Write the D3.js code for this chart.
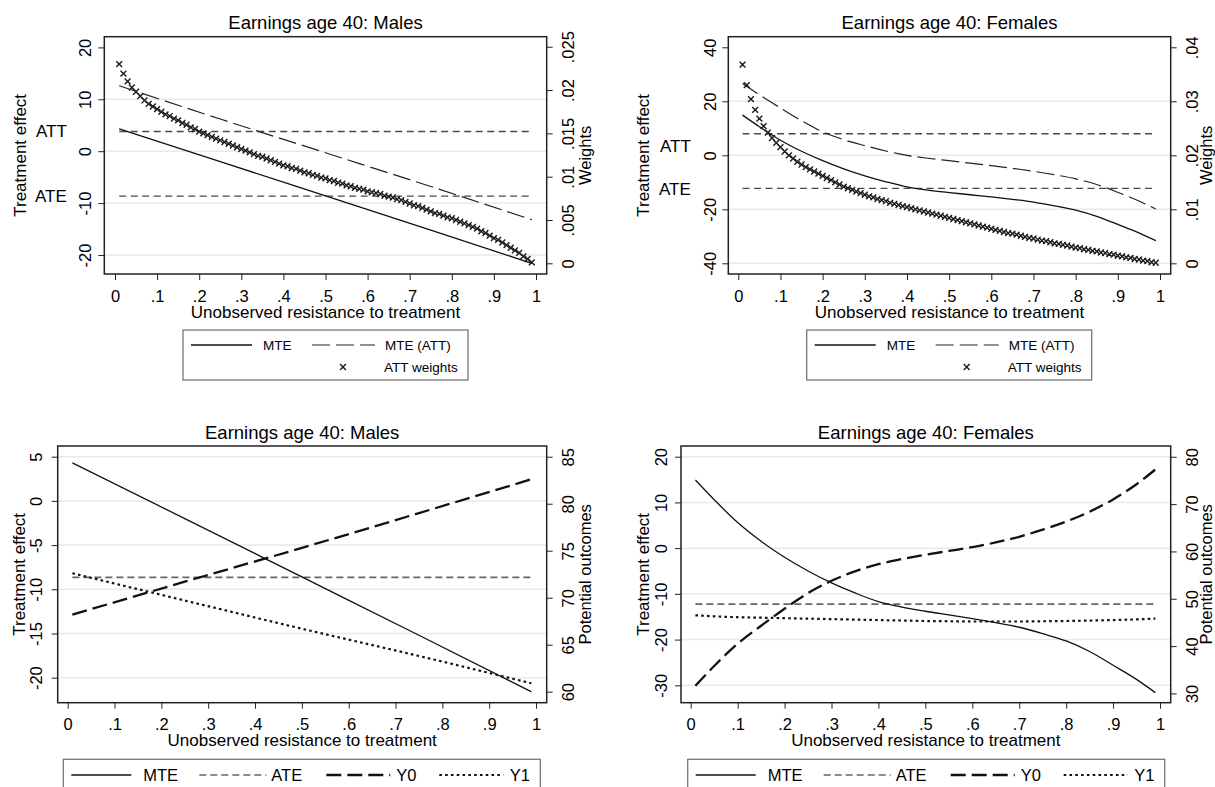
<!DOCTYPE html>
<html>
<head>
<meta charset="utf-8">
<script src="https://cdn.jsdelivr.net/npm/d3@7"></script>
<style>
body { margin: 0; background: #fff; }
svg { font-family: "Liberation Sans", Arial, sans-serif; }
</style>
</head>
<body>
<svg id="chart" width="1215" height="787"></svg>
<script>
// ---- data ----
var xTicks = [0, .1, .2, .3, .4, .5, .6, .7, .8, .9, 1];

// males: straight lines, a few points each
var uMale = [.01, .25, .5, .75, .99];
var maleMTE = [4.3, -2.0, -8.6, -15.2, -21.6];
var maleMTEatt = [12.6, 6.2, -0.3, -6.8, -13.2];
var maleY0 = [68.2, 71.7, 75.3, 79.0, 82.6];
var maleY1 = [72.6, 69.7, 66.7, 63.8, 60.9];
var maleATT = 3.8, maleATE = -8.65;
var maleLabelAt = [3.8, -8.65];

// females: curves
var uFem = [.01, .05, .1, .15, .2, .25, .3, .35, .4, .45, .5, .55, .6, .65, .7, .75, .8, .85, .9, .95, .99];
var femMTE = [14.9, 10.6, 5.6, 1.5, -2.0, -5.0, -7.6, -9.8, -11.7, -12.9, -13.8, -14.6, -15.4, -16.3, -17.3, -18.7, -20.3, -22.6, -25.6, -28.7, -31.6];
var femMTEatt = [26.6, 22.4, 17.5, 12.8, 8.7, 5.8, 3.6, 1.6, 0.0, -1.1, -2.0, -2.9, -3.8, -4.8, -5.9, -7.2, -8.7, -10.8, -13.7, -16.9, -19.9];
var femY0 = [31.6, 35.8, 40.5, 44.3, 47.9, 51.2, 53.8, 55.8, 57.3, 58.4, 59.3, 60.1, 60.9, 61.9, 63.1, 64.6, 66.3, 68.4, 71.0, 74.2, 77.3];
var femY1 = [46.5, 46.3, 46.1, 46.0, 45.9, 45.8, 45.7, 45.6, 45.5, 45.4, 45.3, 45.25, 45.2, 45.2, 45.2, 45.25, 45.3, 45.4, 45.5, 45.65, 45.8];
var femATT = 8.0, femATE = -12.25;
var femLabelAt = [3.1, -12.7];

// ATT weights, one marker per percentile u = .01 ... .99
var uWeights = d3.range(1, 100).map(function(i) { return i / 100; });
var maleWeights = [
  .0230, .0219, .0210, .0203, .0198, .0193, .0188, .0184, .0181, .0178,
  .0175, .0172, .0170, .0167, .0165, .0162, .0160, .0157, .0155, .0152,
  .0150, .0148, .0146, .0144, .0142, .0140, .0138, .0136, .0134, .0132,
  .0130, .0128, .0126, .0124, .0123, .0121, .0119, .0117, .0115, .0113,
  .0112, .0110, .0109, .0107, .0105, .0104, .0102, .0101, .0099, .0098,
  .0096, .0095, .0093, .0092, .0090, .0089, .0087, .0086, .0085, .0083,
  .0082, .0081, .0080, .0078, .0077, .0076, .0074, .0073, .0071, .0069,
  .0067, .0066, .0064, .0062, .0060, .0058, .0057, .0055, .0053, .0052,
  .0050, .0048, .0046, .0044, .0042, .0040, .0037, .0035, .0032, .0029,
  .0027, .0024, .0021, .0018, .0015, .0012, .0008, .0005, .0001];
var femWeights = [
  .0368, .0330, .0304, .0284, .0268, .0254, .0242, .0232, .0223, .0215,
  .0207, .0200, .0194, .0188, .0183, .0178, .0174, .0170, .0166, .0162,
  .0158, .0154, .0150, .0146, .0142, .0139, .0136, .0133, .0130, .0127,
  .0124, .0122, .0119, .0117, .0115, .0112, .0110, .0108, .0106, .0104,
  .0102, .0100, .0098, .0096, .0094, .0092, .0090, .0088, .0086, .0084,
  .0082, .0080, .0078, .0076, .0074, .0072, .0070, .0068, .0066, .0064,
  .0062, .0060, .0058, .0056, .0055, .0053, .0051, .0049, .0047, .0046,
  .0044, .0042, .0041, .0039, .0037, .0036, .0034, .0033, .0031, .0029,
  .0028, .0026, .0025, .0023, .0022, .0020, .0019, .0017, .0016, .0014,
  .0013, .0011, .0010, .0008, .0007, .0005, .0004, .0002, .0001];

// ---- styles ----
var styles = {
  solid:   { stroke: "#111", width: 1.3, dash: null },
  longdash:{ stroke: "#222", width: 1.2, dash: "18,6" },
  hline:   { stroke: "#4a4a4a", width: 1.4, dash: "7,4.5" },
  ate:     { stroke: "#666", width: 1.6, dash: "7,4" },
  y0:      { stroke: "#111", width: 2.3, dash: "15,6" },
  y1:      { stroke: "#111", width: 2.2, dash: "2.6,3.2" }
};

var svg = d3.select("#chart");
var fmt = function(d) { return String(d).replace(/^0\./, ".").replace(/^-0\./, "-."); };

function applyStyle(sel, s) {
  sel.attr("fill", "none").attr("stroke", s.stroke).attr("stroke-width", s.width)
     .attr("stroke-dasharray", s.dash);
}

function rotText(g, cx, cy, txt, size) {
  g.append("text").attr("transform", "translate(" + cx + "," + cy + ") rotate(-90)")
    .attr("text-anchor", "middle").attr("dominant-baseline", "central")
    .attr("font-size", size).text(txt);
}

var marker = d3.symbol().type(d3.symbolTimes).size(24);

function drawPanel(p) {
  var g = svg.append("g");
  var x = d3.scaleLinear().domain(p.xDom).range([p.l, p.r]);
  var yL = d3.scaleLinear().domain(p.yLDom).range([p.b, p.t]);
  var yR = d3.scaleLinear().domain(p.yRDom).range([p.b, p.t]);

  // grid lines
  g.selectAll(".grid").data(p.grid).enter().append("line")
    .attr("x1", p.l).attr("x2", p.r)
    .attr("y1", function(d) { return yL(d); }).attr("y2", function(d) { return yL(d); })
    .attr("stroke", "#e9e9e9").attr("stroke-width", 1.5);

  // horizontal ATT / ATE lines
  p.hlines.forEach(function(h) {
    g.append("line").attr("x1", x(.01)).attr("x2", x(.99))
      .attr("y1", yL(h.v)).attr("y2", yL(h.v)).call(applyStyle, styles[h.style]);
  });

  // series
  p.series.forEach(function(s) {
    var yy = s.axis === "R" ? yR : yL;
    var line = d3.line()
      .x(function(d, i) { return x(s.u[i]); })
      .y(function(d) { return yy(d); })
      .curve(d3.curveMonotoneX);
    g.append("path").datum(s.v).attr("d", line).call(applyStyle, styles[s.style]);
  });

  // weight markers
  if (p.weights) {
    g.selectAll(".wt").data(p.weights).enter().append("path")
      .attr("d", marker)
      .attr("transform", function(d, i) { return "translate(" + x(uWeights[i]) + "," + yR(d) + ")"; })
      .attr("fill", "none").attr("stroke", "#1a1a1a").attr("stroke-width", 1.4);
  }

  // plot box
  g.append("rect").attr("x", p.l).attr("y", p.t).attr("width", p.r - p.l).attr("height", p.b - p.t)
    .attr("fill", "none").attr("stroke", "#222").attr("stroke-width", 1.5);

  // axes
  var ax = g.append("g").attr("transform", "translate(0," + p.b + ")")
    .call(d3.axisBottom(x).tickValues(xTicks).tickSize(6).tickFormat(fmt));
  ax.select(".domain").remove();
  ax.selectAll("line").attr("stroke", "#222");
  ax.selectAll("text").attr("y", 21.5).attr("dy", null).attr("dominant-baseline", "central");
  ax.attr("font-size", 16.5).attr("font-family", null);

  var al = g.append("g").attr("transform", "translate(" + p.l + ",0)")
    .call(d3.axisLeft(yL).tickValues(p.yLTicks).tickSize(6).tickFormat(fmt));
  al.select(".domain").remove();
  al.selectAll("line").attr("stroke", "#222");
  al.selectAll("text").attr("x", null).attr("dy", null)
    .attr("text-anchor", "middle").attr("dominant-baseline", "central")
    .attr("transform", "translate(" + (-p.tickOffL) + ",0) rotate(-90)");
  al.attr("font-size", 16.5).attr("font-family", null);

  var ar = g.append("g").attr("transform", "translate(" + p.r + ",0)")
    .call(d3.axisRight(yR).tickValues(p.yRTicks).tickSize(6).tickFormat(fmt));
  ar.select(".domain").remove();
  ar.selectAll("line").attr("stroke", "#222");
  ar.selectAll("text").attr("x", null).attr("dy", null)
    .attr("text-anchor", "middle").attr("dominant-baseline", "central")
    .attr("transform", "translate(21,0) rotate(-90)");
  ar.attr("font-size", 16.5).attr("font-family", null);

  // ATT / ATE text labels on the left
  if (p.labels) {
    g.selectAll(".lab").data(p.labels.at).enter().append("text")
      .attr("x", p.l - 37.5).attr("y", function(d) { return yL(d); })
      .attr("text-anchor", "end").attr("dominant-baseline", "central")
      .attr("font-size", 17).text(function(d, i) { return p.labels.text[i]; });
  }

  // titles
  var cx = (p.l + p.r) / 2, cy = (p.t + p.b) / 2;
  g.append("text").attr("x", cx).attr("y", p.t - 14).attr("text-anchor", "middle")
    .attr("dominant-baseline", "central").attr("font-size", 18.5).text(p.title);
  g.append("text").attr("x", cx).attr("y", p.b + 38).attr("text-anchor", "middle")
    .attr("dominant-baseline", "central").attr("font-size", 17).text("Unobserved resistance to treatment");
  rotText(g, p.l - p.titleOffL, cy, "Treatment effect", 17);
  rotText(g, p.r + p.titleOffR, cy, p.rightTitle, 16.5);

  // legend
  var lg = p.legend;
  var L = g.append("g").attr("transform", "translate(" + lg.x + "," + lg.y + ")");
  L.append("rect").attr("width", lg.w).attr("height", lg.h)
    .attr("fill", "#fff").attr("stroke", "#777").attr("stroke-width", 1.3);
  lg.items.forEach(function(it) {
    if (it.style) {
      L.append("line").attr("x1", it.x1).attr("x2", it.x2).attr("y1", it.y).attr("y2", it.y)
        .call(applyStyle, styles[it.style]);
    } else {
      L.append("path").attr("d", marker)
        .attr("transform", "translate(" + it.x1 + "," + it.y + ")")
        .attr("fill", "none").attr("stroke", "#1a1a1a").attr("stroke-width", 1.4);
    }
    L.append("text").attr("x", it.tx).attr("y", it.y).attr("dominant-baseline", "central")
      .attr("font-size", lg.size).text(it.text);
  });
}

function topLegend(x) {
  return { x: x, y: 330, w: 285, h: 50, size: 13.5, items: [
    { style: "solid", x1: 8, x2: 69, y: 15, tx: 80, text: "MTE" },
    { style: "longdash", x1: 129, x2: 192, y: 15, tx: 202, text: "MTE (ATT)" },
    { style: null, x1: 160, y: 37, tx: 201, text: "ATT weights" }
  ] };
}
function bottomLegend(x) {
  return { x: x, y: 759.3, w: 477, h: 50, size: 16.5, items: [
    { style: "solid", x1: 8, x2: 68, y: 15.7, tx: 80, text: "MTE" },
    { style: "ate", x1: 136, x2: 203, y: 15.7, tx: 208, text: "ATE" },
    { style: "y0", x1: 263, x2: 327, y: 15.7, tx: 333, text: "Y0" },
    { style: "y1", x1: 376, x2: 440, y: 15.7, tx: 446.5, text: "Y1" }
  ] };
}

// top-left: males, weights
drawPanel({
  l: 104.3, t: 36.7, r: 546.7, b: 274,
  xDom: [-0.0254, 1.0254], yLDom: [-23.66, 22.06], yRDom: [-0.001235, 0.02616],
  yLTicks: [-20, -10, 0, 10, 20], grid: [-20, -10, 0, 10],
  yRTicks: [0, .005, .01, .015, .02, .025],
  tickOffL: 19, titleOffL: 84, titleOffR: 38,
  title: "Earnings age 40: Males", rightTitle: "Weights",
  hlines: [{ v: maleATT, style: "hline" }, { v: maleATE, style: "hline" }],
  series: [
    { u: uMale, v: maleMTE, axis: "L", style: "solid" },
    { u: uMale, v: maleMTEatt, axis: "L", style: "longdash" }
  ],
  weights: maleWeights,
  labels: { at: maleLabelAt, text: ["ATT", "ATE"] },
  legend: topLegend(183)
});

// top-right: females, weights
drawPanel({
  l: 728.3, t: 36.7, r: 1170.7, b: 274,
  xDom: [-0.0237, 1.0254], yLDom: [-43.96, 43.93], yRDom: [-0.00198, 0.04196],
  yLTicks: [-40, -20, 0, 20, 40], grid: [-40, -20, 0, 20],
  yRTicks: [0, .01, .02, .03, .04],
  tickOffL: 18, titleOffL: 85, titleOffR: 35,
  title: "Earnings age 40: Females", rightTitle: "Weights",
  hlines: [{ v: femATT, style: "hline" }, { v: femATE, style: "hline" }],
  series: [
    { u: uFem, v: femMTE, axis: "L", style: "solid" },
    { u: uFem, v: femMTEatt, axis: "L", style: "longdash" }
  ],
  weights: femWeights,
  labels: { at: femLabelAt, text: ["ATT", "ATE"] },
  legend: topLegend(806.7)
});

// bottom-left: males, potential outcomes
drawPanel({
  l: 57.7, t: 446, r: 546.7, b: 702.7,
  xDom: [-0.02135, 1.0228], yLDom: [-22.83, 6.21], yRDom: [58.83, 86.14],
  yLTicks: [-20, -15, -10, -5, 0, 5], grid: [-20, -15, -10, -5, 0, 5],
  yRTicks: [60, 65, 70, 75, 80, 85],
  tickOffL: 21.5, titleOffL: 38.5, titleOffR: 38,
  title: "Earnings age 40: Males", rightTitle: "Potential outcomes",
  hlines: [{ v: maleATE, style: "ate" }],
  series: [
    { u: uMale, v: maleMTE, axis: "L", style: "solid" },
    { u: uMale, v: maleY0, axis: "R", style: "y0" },
    { u: uMale, v: maleY1, axis: "R", style: "y1" }
  ],
  legend: bottomLegend(63.3)
});

// bottom-right: females, potential outcomes
drawPanel({
  l: 681, t: 446, r: 1170.7, b: 702.7,
  xDom: [-0.0207, 1.0228], yLDom: [-33.8, 22.34], yRDom: [28.04, 82.28],
  yLTicks: [-30, -20, -10, 0, 10, 20], grid: [-30, -20, -10, 0, 10, 20],
  yRTicks: [30, 40, 50, 60, 70, 80],
  tickOffL: 20, titleOffL: 37.7, titleOffR: 35,
  title: "Earnings age 40: Females", rightTitle: "Potential outcomes",
  hlines: [{ v: femATE, style: "ate" }],
  series: [
    { u: uFem, v: femMTE, axis: "L", style: "solid" },
    { u: uFem, v: femY0, axis: "R", style: "y0" },
    { u: uFem, v: femY1, axis: "R", style: "y1" }
  ],
  legend: bottomLegend(687.7)
});
</script>
</body>
</html>
